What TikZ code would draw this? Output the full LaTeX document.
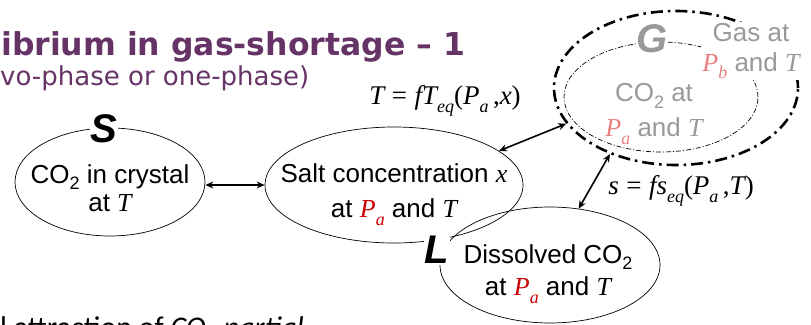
\documentclass[tikz,border=0pt]{standalone}
\usepackage{fontspec}
\setmainfont{Liberation Sans}
\newfontfamily\verdfont{DejaVu Sans}
\newfontfamily\tmsfont{Liberation Serif}
\newfontfamily\calfont{Carlito}
\usetikzlibrary{arrows.meta,shapes.geometric}

\definecolor{titlepurple}{RGB}{102,51,102}
\definecolor{pared}{RGB}{204,0,0}
\definecolor{fadegray}{RGB}{153,153,153}
\definecolor{fadered}{RGB}{232,128,128}

% Times italic letters and small subscripts
\newcommand\mv[1]{{\tmsfont\itshape #1}}
\newcommand\mrm[1]{{\tmsfont #1}}
\newcommand\sbs[1]{\raisebox{-0.3em}{\fontsize{18}{18}\selectfont\tmsfont\itshape #1}}
\newcommand\two{\raisebox{-0.25em}{\fontsize{18}{18}\selectfont 2}}
\newcommand\Pa[1][pared]{\textcolor{#1}{\mv{P}\sbs{a}}}

\begin{document}
\begin{tikzpicture}[x=1pt,y=-1pt,>={Stealth[length=8pt,width=7pt]},
  phase/.style={draw,ellipse,inner sep=0pt,line width=0.7pt},
  txt/.style={align=center,inner sep=0pt,font=\fontsize{26}{#1}\selectfont},
  txt/.default=30,
  tag/.style={fill=white,inner sep=1pt,font=\fontsize{40}{40}\selectfont\bfseries\itshape},
  link/.style={<->,line width=1.6pt}]
\useasboundingbox (0,0) rectangle (811,324);

% heading (cut at the left edge)
\node[anchor=base west,inner sep=0pt,text=titlepurple,font=\verdfont\fontsize{31.5}{31.5}\selectfont\bfseries] (title) at (1,55) {ibrium in gas-shortage – 1};
\node[anchor=base west,inner sep=0pt,text=titlepurple,font=\verdfont\fontsize{26}{26}\selectfont] (subtitle) at (0,85) {vo-phase or one-phase)};

% phases
\node[phase,minimum width=190,minimum height=108] (crystal) at (110,182) {};
\node[phase,minimum width=258,minimum height=116] (salt) at (394,185) {};
\node[phase,minimum width=220,minimum height=116] (diss) at (550,265) {};
\node[draw,ellipse,inner sep=0pt,line width=2.6pt,dash pattern=on 12pt off 5pt on 2.5pt off 5pt,minimum width=244,minimum height=154] (gasout) at (676,88) {};
\node[draw,ellipse,inner sep=0pt,line width=0.7pt,dash pattern=on 5pt off 2pt on 1pt off 2pt,minimum width=194,minimum height=110] (gasin) at (661,97) {};

% phase letters
\node[tag] (S) at (104,129) {S};
\node[tag] (L) at (437,250) {L};
\node[tag,text=fadegray,inner sep=0pt] (G) at (652,39) {G};

% texts
\node[txt=28] (crystaltxt) at (110,188) {CO\two{} in crystal\\at \mv{T}};
\node[txt=35] (salttxt) at (394,195) {Salt concentration \mv{x}\\at \Pa{} and \mv{T}};
\node[txt=32] (disstxt) at (548,274) {Dissolved CO\two\\at \Pa{} and \mv{T}};
\node[txt=30,fill=white,inner sep=1pt,text=fadegray] (gastxt) at (751,51) {Gas at\\\textcolor{fadered}{\mv{P}\sbs{b}} and \mv{T}};
\node[txt=35,text=fadegray] (co2txt) at (654,114) {CO\two{} at\\\Pa[fadered] and \mv{T}};

% equilibrium relations
\node[font=\fontsize{27}{27}\selectfont,inner sep=0pt] (Teq) at (445,101) {\mv{T} \mrm{=} \mv{fT}\sbs{eq}\mrm{(}\mv{P}\sbs{a}\,\mrm{,}\mv{x}\mrm{)}};
\node[font=\fontsize{27}{27}\selectfont,inner sep=0pt] (seq) at (681,191) {\mv{s} \mrm{=} \mv{fs}\sbs{eq}\mrm{(}\mv{P}\sbs{a}\,\mrm{,}\mv{T}\mrm{)}};

% exchanges
\draw[link] (salt.west -| crystal.east) -- (salt.west);
\draw[link] (salt.18) -- (gasout.198);
\draw[link] (diss.63) -- (gasout.225);

% next line of the slide, cut at the bottom edge
\node[anchor=base west,inner sep=0pt,font=\calfont\fontsize{30}{30}\selectfont] (foot) at (0,337) {l attraction of \textit{CO\textsubscript{2} partial}};
\end{tikzpicture}
\end{document}
